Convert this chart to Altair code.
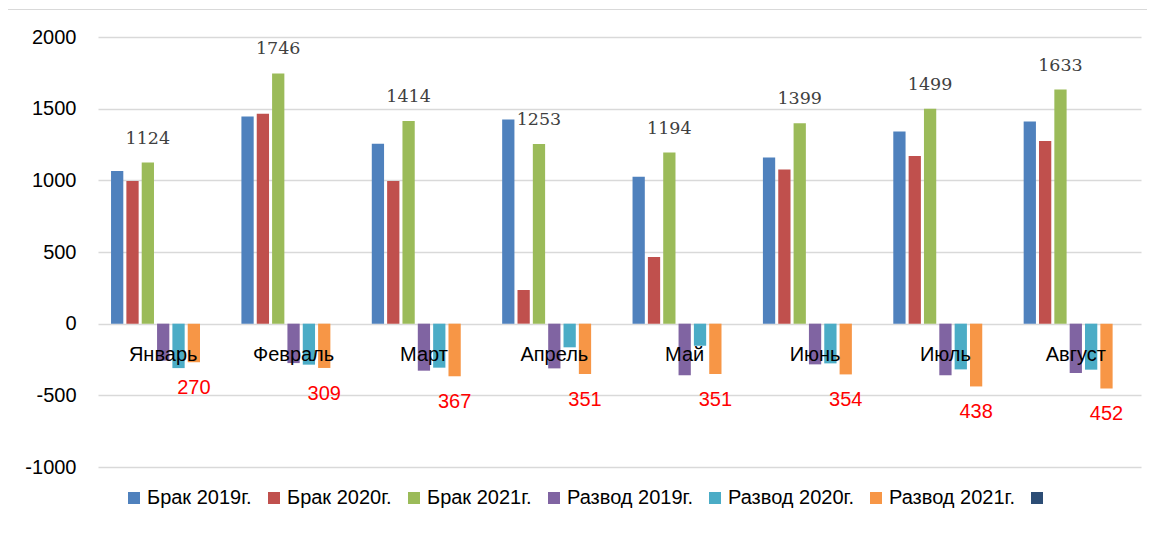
import altair as alt
import pandas as pd

months = ["Январь", "Февраль", "Март", "Апрель", "Май", "Июнь", "Июль", "Август"]
series_names = ["Брак 2019г.", "Брак 2020г.", "Брак 2021г.",
                "Развод 2019г.", "Развод 2020г.", "Развод 2021г.", " "]
colors = ["#4F81BD", "#C0504D", "#9BBB59", "#8064A2", "#4BACC6", "#F79646", "#2C4D75"]

brak_2019 = [1065, 1445, 1255, 1425, 1025, 1160, 1340, 1410]
brak_2020 = [995, 1465, 995, 235, 465, 1075, 1170, 1275]
brak_2021 = [1124, 1746, 1414, 1253, 1194, 1399, 1499, 1633]
razvod_2019 = [258, 275, 328, 312, 360, 284, 360, 344]
razvod_2020 = [310, 286, 307, 165, 154, 277, 319, 321]
razvod_2021 = [270, 309, 367, 351, 351, 354, 438, 452]

y_ticks = [-1000, -500, 0, 500, 1000, 1500, 2000]

rows = []
for name, vals, sign in [
    (series_names[0], brak_2019, 1), (series_names[1], brak_2020, 1),
    (series_names[2], brak_2021, 1), (series_names[3], razvod_2019, -1),
    (series_names[4], razvod_2020, -1), (series_names[5], razvod_2021, -1),
]:
    for m, v in zip(months, vals):
        rows.append({"month": m, "series": name, "value": sign * v, "count": v})
df = pd.DataFrame(rows)

W, H = 1043, 430
FONT = "Liberation Sans"

x = alt.X("month:N", sort=months,
          scale=alt.Scale(paddingInner=0.2, paddingOuter=0.1),
          axis=alt.Axis(title=None, orient="bottom", offset=-(H / 3),
                        domain=False, ticks=False, grid=False, labelAngle=0,
                        labelFont=FONT, labelFontSize=20, labelColor="#000000",
                        labelPadding=21, zindex=1))
xo = alt.XOffset("series:N", sort=series_names,
                 scale=alt.Scale(domain=series_names, paddingInner=0.2, paddingOuter=0))
y = alt.Y("value:Q", scale=alt.Scale(domain=[-1000, 2000], nice=False),
          axis=alt.Axis(title=None, values=y_ticks, domain=False, ticks=False, grid=True,
                        gridColor="#d9d9d9", gridWidth=1.5, labelFont=FONT, labelFontSize=20,
                        labelColor="#000000", labelPadding=22,
                        labelExpr="'' + datum.value"))
color = alt.Color("series:N",
                  scale=alt.Scale(domain=series_names, range=colors),
                  legend=alt.Legend(title=None, orient="none", legendX=26, legendY=451,
                                    direction="horizontal", symbolType="square",
                                    symbolSize=144, symbolStrokeWidth=0,
                                    labelFont=FONT, labelFontSize=20, labelColor="#000000",
                                    columnPadding=12, labelOffset=3, labelLimit=300))

base = alt.Chart(df)

frame = alt.Chart(pd.DataFrame({"k": [0]})).mark_rect(
    fill=None, stroke="#d9d9d9", strokeWidth=1
).encode(x=alt.value(-90.5), x2=alt.value(1200), y=alt.value(-27.5), y2=alt.value(700))

bars = base.mark_bar().encode(x=x, xOffset=xo, y=y, color=color)

green_labels = base.transform_filter(alt.datum.series == series_names[2]).mark_text(
    font="DejaVu Serif", fontSize=17.5, color="#404040", baseline="middle", dy=-24
).encode(x=x, xOffset=xo, y=y, text="count:Q")

red_labels = base.transform_filter(alt.datum.series == series_names[5]).mark_text(
    font=FONT, fontSize=20, color="#FF0000", baseline="middle", dy=26
).encode(x=x, xOffset=xo, y=y, text="count:Q")

chart = alt.layer(frame, bars, green_labels, red_labels).properties(
    width=W, height=H,
    autosize=alt.AutoSizeParams(type="none"),
    padding={"left": 90, "top": 29, "right": 6, "bottom": 70},
).configure_view(stroke=None)

chart.save("out.html", embed_options={"renderer": "svg", "actions": False})
